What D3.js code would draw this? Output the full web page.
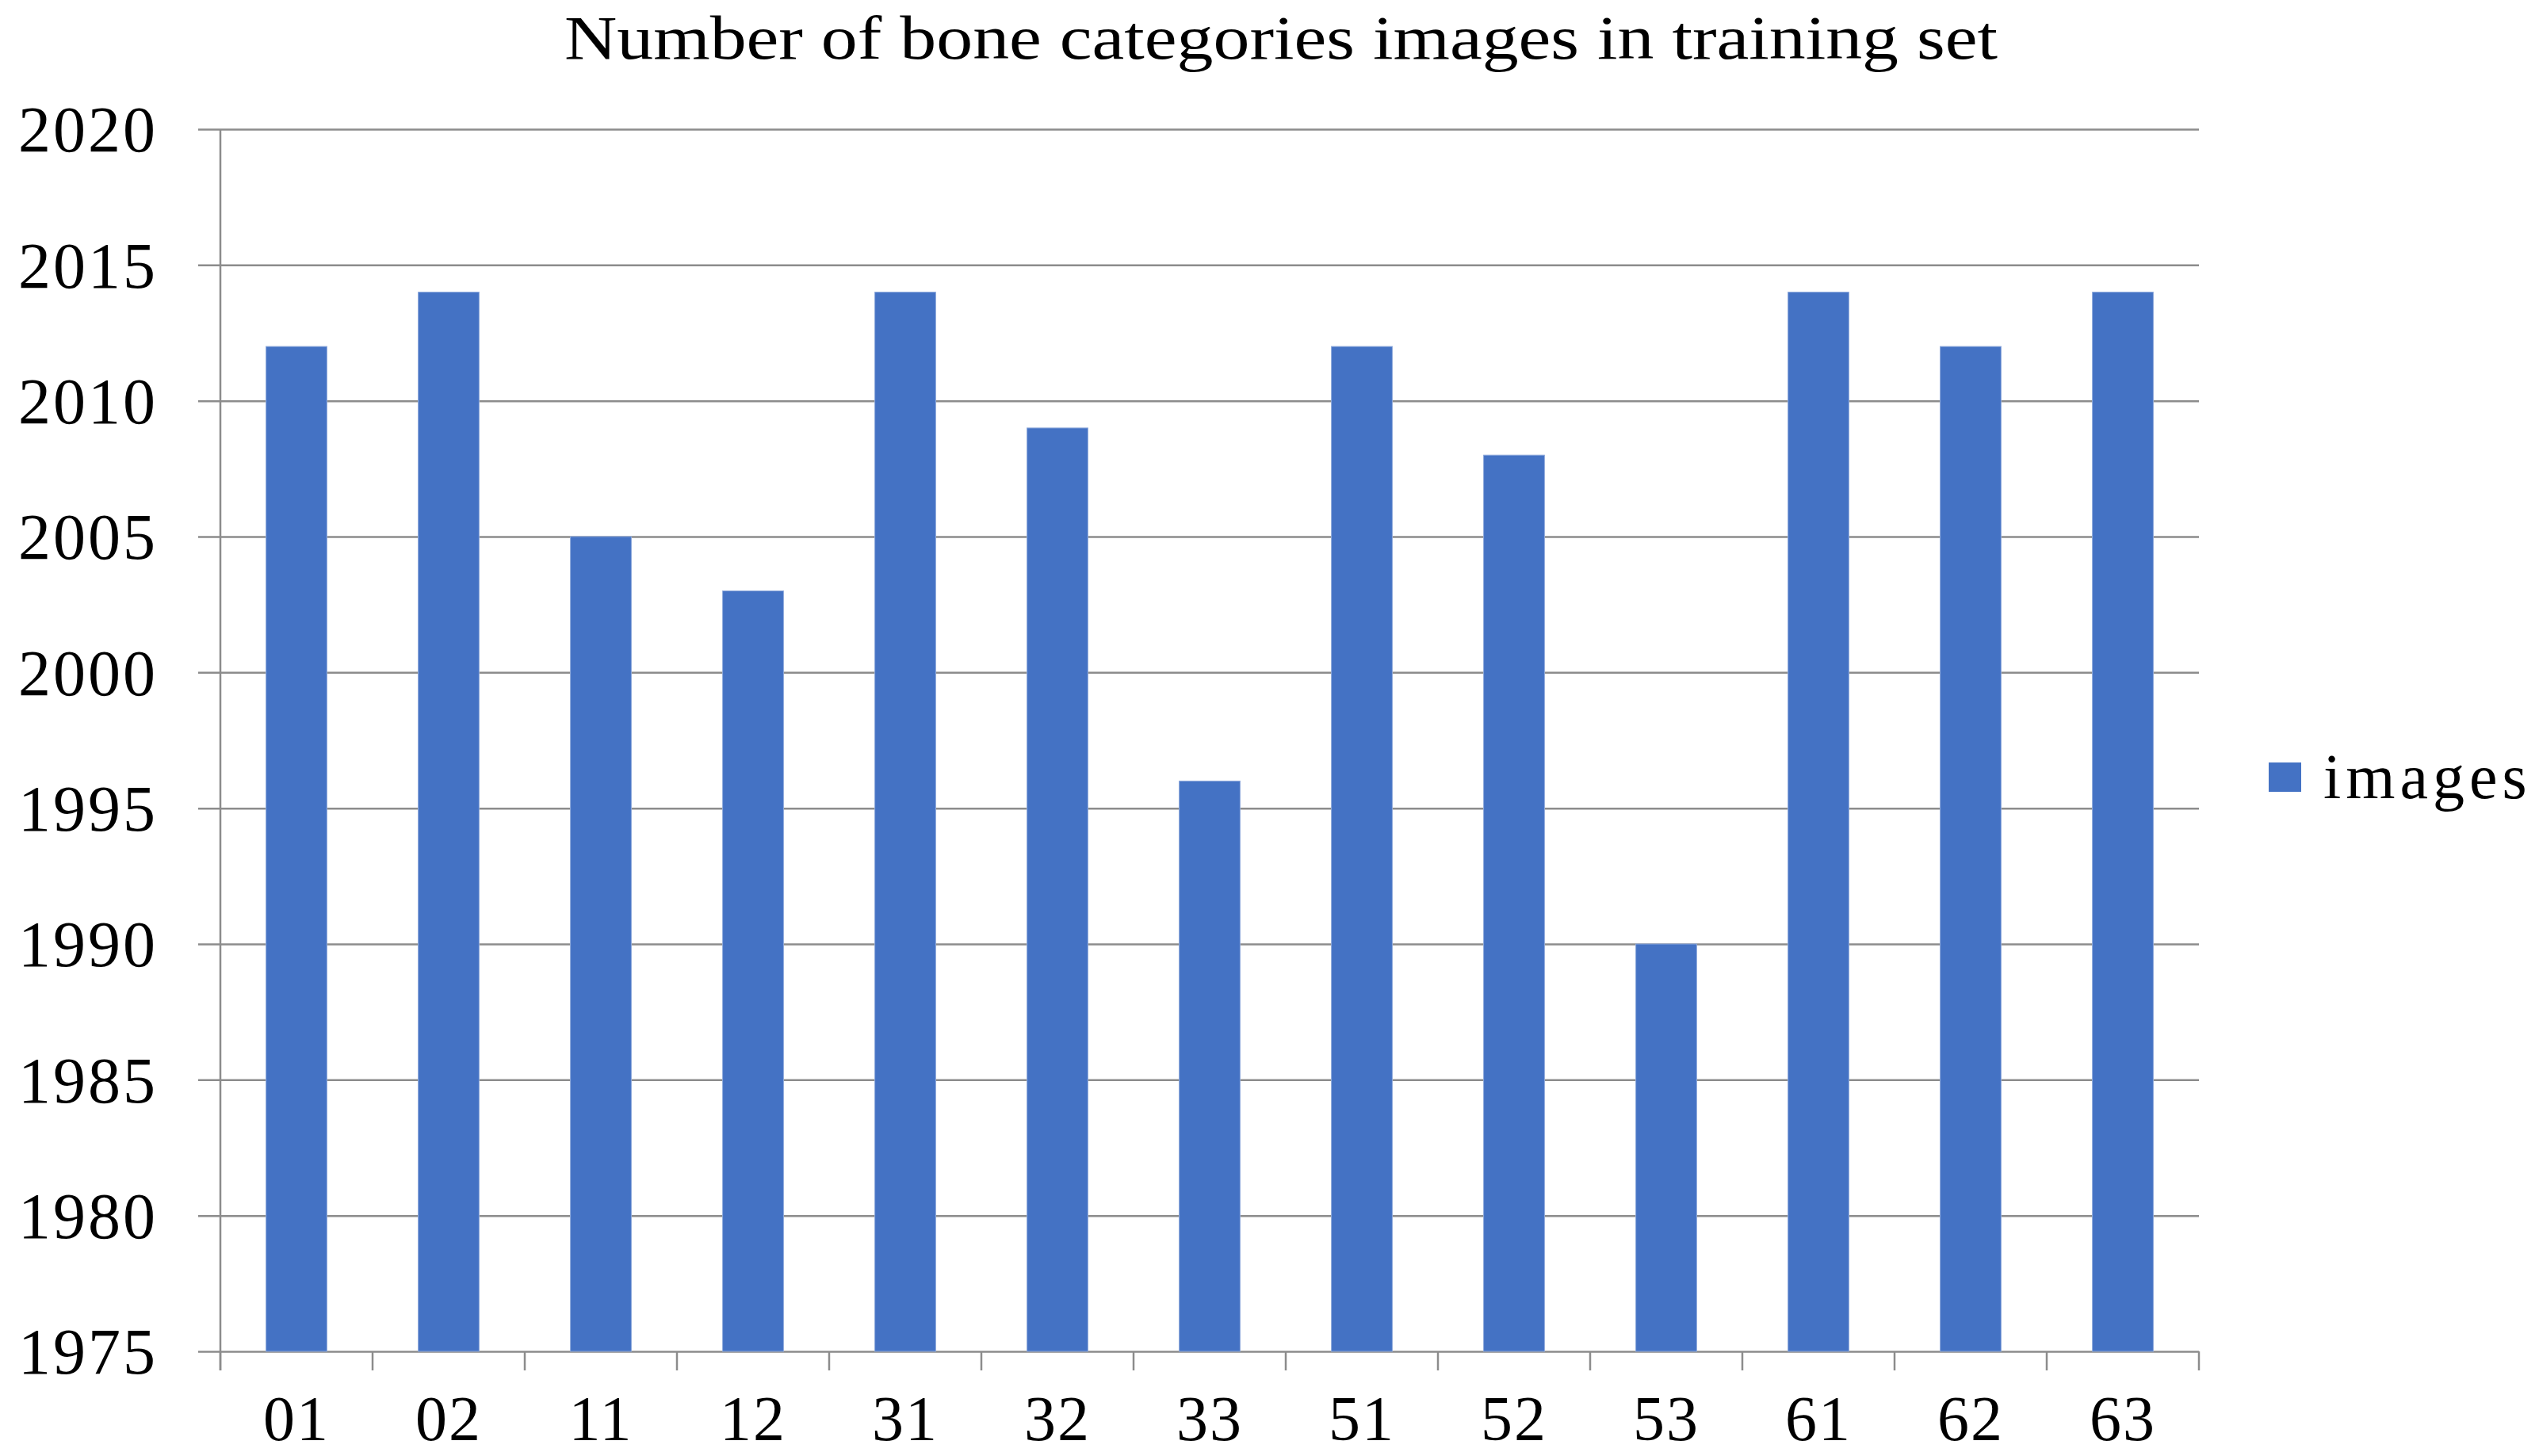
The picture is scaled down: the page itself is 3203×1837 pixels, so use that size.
<!DOCTYPE html>
<html>
<head>
<meta charset="utf-8">
<script src="https://cdn.jsdelivr.net/npm/d3@7"></script>
<style>
  html, body { margin: 0; padding: 0; background: #fff; }
  svg { display: block; }
</style>
</head>
<body>
<div id="chart"></div>
<script>
const width = 3203
    , height = 1837
    , margin = { top: 163, right: 429, bottom: 132, left: 278 }
    , barColor = '#4472C4'
    , gridColor = '#8c8c8c'
    , font = '"Liberation Serif", "Times New Roman", serif'
    ;

const categories = ['01', '02', '11', '12', '31', '32', '33', '51', '52', '53', '61', '62', '63'];
const images = [2012, 2014, 2005, 2003, 2014, 2009, 1996, 2012, 2008, 1990, 2014, 2012, 2014];
const yTicks = [1975, 1980, 1985, 1990, 1995, 2000, 2005, 2010, 2015, 2020];
const title = 'Number of bone categories images in training set';
const seriesName = 'images';

const data = categories.map((c, i) => ({ cat: c, value: images[i] }));

const svg = d3.select('#chart')
  .append('svg')
  .attr('width', width)
  .attr('height', height)
  .style('font-family', font)
  ;

const x = d3.scaleBand()
  .domain(categories)
  .range([margin.left, width - margin.right])
  .paddingInner(0.6)
  .paddingOuter(0.3);

const xBand = d3.scaleBand()
  .domain(categories)
  .range([margin.left, width - margin.right]);

const y = d3.scaleLinear()
  .domain([1975, 2020])
  .range([height - margin.bottom, margin.top]);

// gridlines + y labels
const yAxis = svg.append('g')
  .attr('transform', `translate(${margin.left},0)`)
  .call(d3.axisLeft(y)
    .tickValues(yTicks)
    .tickSize(-(width - margin.left - margin.right))
    .tickPadding(0)
    .tickFormat(d3.format('d')))
  .attr('font-family', font)
  ;
yAxis.select('.domain').remove();
yAxis.selectAll('.tick line')
  .attr('x1', -28)
  .attr('stroke', gridColor)
  .attr('stroke-width', 2.5);
yAxis.selectAll('.tick text')
  .attr('x', -79)
  .attr('dy', '0.34em')
  .style('font-size', '82px')
  .style('letter-spacing', '3px')
  .attr('fill', '#000');

// bars
svg.append('g')
  .selectAll('rect')
  .data(data)
  .join('rect')
    .attr('x', d => x(d.cat))
    .attr('width', x.bandwidth())
    .attr('y', d => y(d.value))
    .attr('height', d => y(1975) - y(d.value))
    .attr('fill', barColor)
    .attr('stroke', '#8faadc')
    .attr('stroke-width', 1)
    ;

// left axis line
svg.append('line')
  .attr('x1', margin.left).attr('x2', margin.left)
  .attr('y1', margin.top).attr('y2', y(1975) + 24)
  .attr('stroke', gridColor)
  .attr('stroke-width', 2.5);

// category boundary ticks
const bounds = categories.map(c => xBand(c)).concat([width - margin.right]);
svg.append('g')
  .selectAll('line')
  .data(bounds)
  .join('line')
    .attr('x1', d => d).attr('x2', d => d)
    .attr('y1', y(1975)).attr('y2', y(1975) + 24)
    .attr('stroke', gridColor)
    .attr('stroke-width', 2.5);

// x labels
svg.append('g')
  .selectAll('text')
  .data(categories)
  .join('text')
    .attr('x', d => xBand(d) + xBand.bandwidth() / 2)
    .attr('y', 1817)
    .attr('text-anchor', 'middle')
    .style('font-size', '80px')
    .style('letter-spacing', '2px')
    .text(d => d);

// title
svg.append('text')
  .attr('x', 1616)
  .attr('y', 74)
  .attr('text-anchor', 'middle')
  .style('font-size', '78px')
  .attr('textLength', 1808)
  .attr('lengthAdjust', 'spacingAndGlyphs')
  .text(title);

// legend
const legend = svg.append('g')
  .attr('transform', 'translate(2862,962)');
legend.append('rect')
  .attr('width', 41)
  .attr('height', 37)
  .attr('fill', barColor);
legend.append('text')
  .attr('x', 69)
  .attr('y', 45)
  .style('font-size', '80px')
  .style('letter-spacing', '6px')
  .text(seriesName);
</script>
</body>
</html>
